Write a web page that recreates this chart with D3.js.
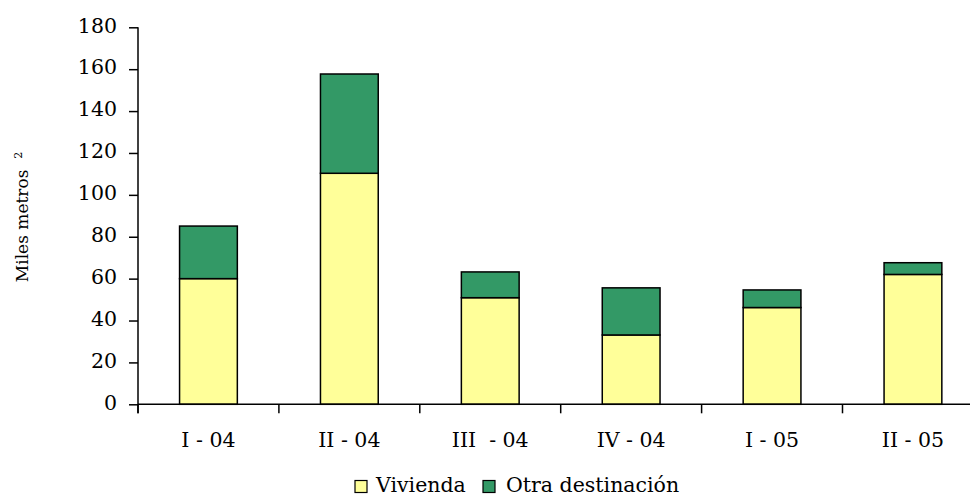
<!DOCTYPE html>
<html><head><meta charset="utf-8">
<script src="https://cdn.jsdelivr.net/npm/d3@7"></script>
<style>body{margin:0;background:#fff;overflow:hidden;} svg{display:block;}</style>
</head><body>
<script>
const categories = ["I - 04", "II - 04", "III  - 04", "IV - 04", "I - 05", "II - 05"];
const vivienda = [60, 110.3, 50.9, 33.1, 46.2, 62];
const otra = [25.1, 47.4, 12.3, 22.5, 8.4, 5.6];
const seriesNames = ["Vivienda", "Otra destinación"];
const seriesColors = ["#FFFF99", "#339966"];
const yTicks = [0, 20, 40, 60, 80, 100, 120, 140, 160, 180];

const W = 970, H = 497;
const font = "DejaVu Serif";
const fs = 20.5;
const svg = d3.select("body").append("svg").attr("width", W).attr("height", H);

const x0 = 138, x1 = 983.4;
const x = d3.scaleBand().domain(categories).range([x0, x1]).paddingInner(0.59).paddingOuter(0.295);
const y = d3.scaleLinear().domain([0, 180]).range([404.3, 27.3]);

const rows = categories.map((c, i) => ({cat: c, Vivienda: vivienda[i], "Otra destinación": otra[i]}));
const stacked = d3.stack().keys(seriesNames)(rows);

svg.append("g").selectAll("g").data(stacked).join("g")
  .attr("fill", (d, i) => seriesColors[i])
  .selectAll("rect").data(d => d).join("rect")
  .attr("x", d => x(d.data.cat))
  .attr("y", d => y(d[1]))
  .attr("width", x.bandwidth())
  .attr("height", d => y(d[0]) - y(d[1]))
  .attr("stroke", "#000").attr("stroke-width", 1.5);

// y axis
const yAxis = svg.append("g").attr("transform", `translate(${x0},0)`)
  .call(d3.axisLeft(y).tickValues(yTicks).tickSize(9).tickPadding(12));
yAxis.select(".domain").attr("stroke", "#000").attr("stroke-width", 1.5).attr("d", `M0,${y(180)}V${y(0)+9}`);
yAxis.selectAll(".tick line").attr("stroke", "#000").attr("stroke-width", 1.5);
yAxis.selectAll("text").attr("font-family", font).attr("font-size", fs).attr("fill", "#000").attr("dy", "0.23em");

// x axis
const step = x.step();
const xAxis = svg.append("g");
xAxis.append("line").attr("x1", x0).attr("x2", x1).attr("y1", y(0)).attr("y2", y(0))
  .attr("stroke", "#000").attr("stroke-width", 1.5);
xAxis.selectAll("line.t").data(d3.range(categories.length + 1)).join("line").attr("class", "t")
  .attr("x1", i => x0 + i * step).attr("x2", i => x0 + i * step)
  .attr("y1", y(0)).attr("y2", y(0) + 9)
  .attr("stroke", "#000").attr("stroke-width", 1.5);
xAxis.selectAll("text").data(categories).join("text")
  .attr("x", d => x(d) + x.bandwidth() / 2)
  .attr("y", 447)
  .attr("text-anchor", "middle")
  .attr("font-family", font).attr("font-size", fs).attr("fill", "#000")
  .style("white-space", "pre")
  .text(d => d);

// y title
const yt = svg.append("text")
  .attr("transform", "translate(28,217) rotate(-90)")
  .attr("text-anchor", "middle")
  .attr("font-family", font).attr("font-size", 17).attr("fill", "#000")
  .style("white-space", "pre");
yt.append("tspan").text("Miles metros  ");
yt.append("tspan").attr("font-size", 11).attr("dy", -6).text("2");

// legend
const legend = svg.append("g");
const lx = [355, 483];
const tx = [376, 506];
seriesNames.forEach((n, i) => {
  legend.append("rect").attr("x", lx[i]).attr("y", 480.5).attr("width", 12).attr("height", 12)
    .attr("fill", seriesColors[i]).attr("stroke", "#000").attr("stroke-width", 1.2);
  legend.append("text").attr("x", tx[i]).attr("y", 491.5)
    .attr("font-family", font).attr("font-size", fs).attr("fill", "#000").text(n);
});
</script>
</body></html>
